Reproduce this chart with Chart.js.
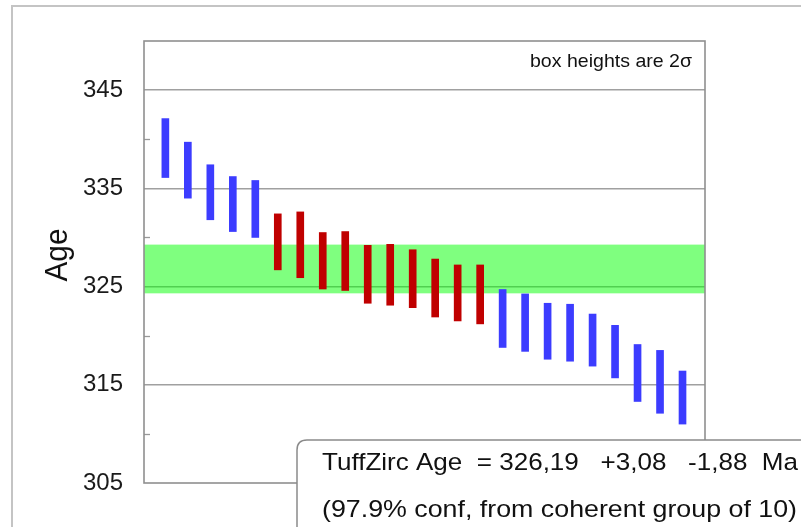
<!DOCTYPE html>
<html>
<head>
<meta charset="utf-8">
<script src="https://cdn.jsdelivr.net/npm/chart.js@4/dist/chart.umd.min.js"></script>
<style>
  html, body { margin: 0; padding: 0; background: #fff; }
  #wrap { width: 801px; height: 527px; position: relative; }
</style>
</head>
<body>
<div id="wrap"><canvas id="chart" width="801" height="527"></canvas></div>
<script>
// Zircon analyses, ordered by decreasing age (Ma); each box spans 2 sigma
const analyses = [1, 2, 3, 4, 5, 6, 7, 8, 9, 10, 11, 12, 13, 14, 15, 16, 17, 18, 19, 20, 21, 22, 23, 24];
const ageLow  = [336.1, 334.0, 331.8, 330.6, 330.0, 326.7, 325.9, 324.75, 324.6, 323.3, 323.1, 322.85,
                 321.9, 321.5, 321.2, 318.8, 318.4, 317.6, 317.4, 316.9, 315.7, 313.3, 312.1, 311.0];
const ageHigh = [342.1, 339.7, 337.4, 336.2, 335.8, 332.4, 332.6, 330.5, 330.6, 329.2, 329.3, 328.75,
                 327.8, 327.2, 327.2, 324.7, 324.25, 323.3, 323.2, 322.2, 321.05, 319.1, 318.5, 316.4];

// Analyses kept in the TuffZirc coherent group
const coherentGroup = [6, 7, 8, 9, 10, 11, 12, 13, 14, 15];

// Y axis: labelled ticks and unlabelled minor ticks
const yTickLabels = [305, 315, 325, 335, 345];
const yMinorTicks = [310, 320, 330, 340];

// TuffZirc result
const tuffAge = 326.19;
const tuffPlus = 3.08;
const tuffMinus = 1.88;
const tuffConf = 97.9;

const FONT = '"Liberation Sans", Arial, Helvetica, sans-serif';

function boxes(inGroup) {
  return analyses
    .map((n, i) => ({ x: n, y: [ageLow[i], ageHigh[i]] }))
    .filter(p => coherentGroup.includes(p.x) === inGroup);
}

function comma(v) { return v.toFixed(2).replace('.', ','); }

// Draw text squeezed/stretched to a given width and cap height
function fitText(ctx, str, x, baseline, width, capH, align, angle) {
  const size = 20;
  ctx.save();
  ctx.font = size + 'px ' + FONT;
  const w = ctx.measureText(str).width;
  ctx.translate(x, baseline);
  if (angle) ctx.rotate(angle);
  ctx.scale(width / w, capH / (0.716 * size));
  ctx.textAlign = align || 'left';
  ctx.textBaseline = 'alphabetic';
  ctx.fillStyle = '#111';
  ctx.fillText(str, 0, 0);
  ctx.restore();
}

const decor = {
  id: 'decor',
  beforeDatasetsDraw(chart) {
    const { ctx, chartArea: a, scales: { y } } = chart;
    const top = y.getPixelForValue(tuffAge + tuffPlus);
    const bot = y.getPixelForValue(tuffAge - tuffMinus);
    ctx.save();
    ctx.fillStyle = 'rgba(0,255,0,0.5)';
    ctx.fillRect(a.left, top, a.right - a.left, bot - top);
    ctx.restore();
  },
  afterDatasetsDraw(chart) {
    const { ctx, chartArea: a, scales: { y } } = chart;
    ctx.save();

    // outer page border
    ctx.strokeStyle = '#c4c4c4';
    ctx.lineWidth = 2;
    ctx.beginPath();
    ctx.moveTo(12, 540);
    ctx.lineTo(12, 6);
    ctx.lineTo(820, 6);
    ctx.stroke();

    // minor ticks pointing into the plot
    ctx.strokeStyle = '#999';
    ctx.lineWidth = 1.3;
    yMinorTicks.forEach(v => {
      const py = Math.round(y.getPixelForValue(v)) + 0.5;
      ctx.beginPath();
      ctx.moveTo(a.left, py);
      ctx.lineTo(a.left + 6, py);
      ctx.stroke();
    });

    // plot frame
    ctx.strokeStyle = '#8f8f8f';
    ctx.lineWidth = 1.6;
    ctx.strokeRect(a.left, a.top, a.right - a.left, a.bottom - a.top);

    // result box
    const bx = 297, by = 440, r = 10;
    ctx.beginPath();
    ctx.moveTo(bx + r, by);
    ctx.lineTo(830, by);
    ctx.lineTo(830, 560);
    ctx.lineTo(bx, 560);
    ctx.lineTo(bx, by + r);
    ctx.quadraticCurveTo(bx, by, bx + r, by);
    ctx.closePath();
    ctx.fillStyle = '#fff';
    ctx.fill();
    ctx.strokeStyle = '#8a8a8a';
    ctx.lineWidth = 1.5;
    ctx.stroke();
    ctx.restore();

    const line1 = 'TuffZirc Age  = ' + comma(tuffAge) + '   +' + comma(tuffPlus) +
                  '   -' + comma(tuffMinus) + '  Ma';
    const line2 = '(' + tuffConf.toFixed(1) + '% conf, from coherent group of ' +
                  coherentGroup.length + ')';
    fitText(ctx, line1, 322, 470, 476, 17.3, 'left');
    fitText(ctx, line2, 322, 516.7, 475, 17.3, 'left');

    fitText(ctx, 'box heights are 2\u03c3', 692, 67.3, 162, 13.5, 'right');

    // axis title
    fitText(ctx, 'Age', 66.5, 255, 53, 22, 'center', -Math.PI / 2);
  }
};

new Chart(document.getElementById('chart'), {
  type: 'bar',
  data: {
    datasets: [
      {
        label: 'rejected',
        data: boxes(false),
        backgroundColor: '#3c3cff',
        borderWidth: 0,
        barThickness: 7,
        grouped: false
      },
      {
        label: 'coherent group',
        data: boxes(true),
        backgroundColor: '#c00000',
        borderWidth: 0,
        barThickness: 7,
        grouped: false
      }
    ]
  },
  options: {
    responsive: false,
    animation: false,
    devicePixelRatio: 1,
    layout: { padding: { top: 41, right: 96, bottom: 44, left: 0 } },
    plugins: {
      legend: { display: false },
      tooltip: { enabled: false }
    },
    scales: {
      x: {
        type: 'linear',
        min: 0.05,
        max: 25,
        offset: false,
        grid: { offset: false },
        display: false
      },
      y: {
        min: 305,
        max: 350,
        afterFit(scale) { scale.width = 144; },
        border: { display: false },
        grid: {
          drawTicks: false,
          lineWidth: 1.4,
          color: c => (yTickLabels.includes(c.tick.value) && c.tick.value !== 305) ? '#a0a0a0' : 'rgba(0,0,0,0)'
        },
        ticks: {
          stepSize: 5,
          autoSkip: false,
          padding: 21,
          color: '#1a1a1a',
          font: { family: FONT, size: 24 },
          callback: v => yTickLabels.includes(v) ? String(v) : ''
        }
      }
    }
  },
  plugins: [decor]
});
</script>
</body>
</html>
